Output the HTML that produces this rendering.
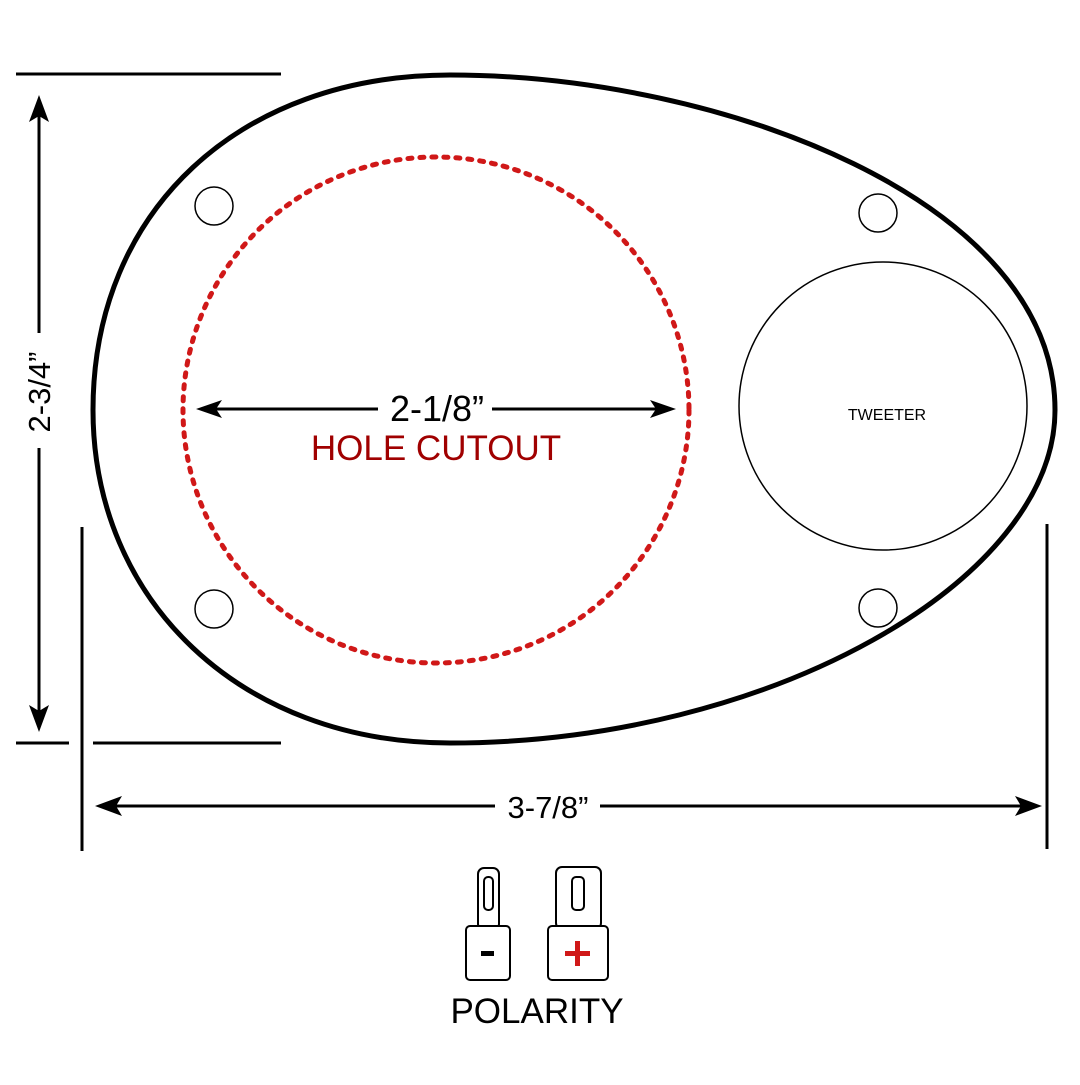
<!DOCTYPE html>
<html><head><meta charset="utf-8"><style>html,body{margin:0;padding:0;background:#fff}</style></head>
<body>
<svg width="1080" height="1080" viewBox="0 0 1080 1080" xmlns="http://www.w3.org/2000/svg" font-family="Liberation Sans, sans-serif">
<g stroke="#000" stroke-width="3">
<line x1="16" y1="74" x2="281" y2="74"/>
<line x1="16" y1="743" x2="69" y2="743"/>
<line x1="93" y1="743" x2="281" y2="743"/>
<line x1="82" y1="527" x2="82" y2="851"/>
<line x1="1047" y1="524" x2="1047" y2="849"/>
<line x1="39" y1="110" x2="39" y2="333"/>
<line x1="39" y1="448" x2="39" y2="715"/>
<line x1="110" y1="806" x2="495" y2="806"/>
<line x1="600" y1="806" x2="1026" y2="806"/>
<line x1="210" y1="409" x2="378" y2="409"/>
<line x1="492" y1="409" x2="664" y2="409"/>
</g>
<g fill="#000">
<polygon points="39,95 29,122 39,116 49,122"/>
<polygon points="39,732 29,705 39,711 49,705"/>
<polygon points="95,806 122,796 116,806 122,816"/>
<polygon points="1042,806 1015,796 1021,806 1015,816"/>
<polygon points="196,409 222,400 216,409 222,418"/>
<polygon points="676,409 650,400 656,409 650,418"/>
</g>
<path d="M93,410 C93,210 240,75 450,75 C720,75 1055,200 1055,410 C1055,580 770,743 450,743 C240,743 93,600 93,410 Z" fill="none" stroke="#000" stroke-width="5"/>
<circle cx="436" cy="410" r="253" fill="none" stroke="#d01818" stroke-width="5" stroke-dasharray="4 8" stroke-linecap="round"/>
<circle cx="883" cy="406" r="144" fill="none" stroke="#000" stroke-width="1.5"/>
<g fill="none" stroke="#000" stroke-width="1.5">
<circle cx="214" cy="206" r="19"/><circle cx="214" cy="609" r="19"/>
<circle cx="878" cy="213" r="19"/><circle cx="878" cy="608" r="19"/>
</g>
<text x="887" y="420" font-size="16" text-anchor="middle">TWEETER</text>
<text x="437" y="421" font-size="36" text-anchor="middle">2-1/8”</text>
<text x="436" y="460" font-size="35" text-anchor="middle" fill="#a00000">HOLE CUTOUT</text>
<text x="548" y="818" font-size="31" text-anchor="middle">3-7/8”</text>
<text transform="translate(50,392) rotate(-90)" font-size="31" text-anchor="middle">2-3/4”</text>
<g fill="#fff" stroke="#000" stroke-width="2">
<rect x="478" y="868" width="21" height="62" rx="6"/>
<rect x="484" y="877" width="9" height="33" rx="4"/>
<rect x="466" y="926" width="44" height="54" rx="4"/>
<rect x="556" y="867" width="45" height="62" rx="6"/>
<rect x="572" y="877" width="12" height="33" rx="4"/>
<rect x="548" y="926" width="60" height="54" rx="4"/>
</g>
<rect x="481" y="951" width="13" height="5" fill="#000"/>
<rect x="565" y="951" width="25" height="5" fill="#d01818"/>
<rect x="575" y="941" width="5" height="25" fill="#d01818"/>
<text x="537" y="1023" font-size="35" text-anchor="middle">POLARITY</text>
</svg>
</body></html>
